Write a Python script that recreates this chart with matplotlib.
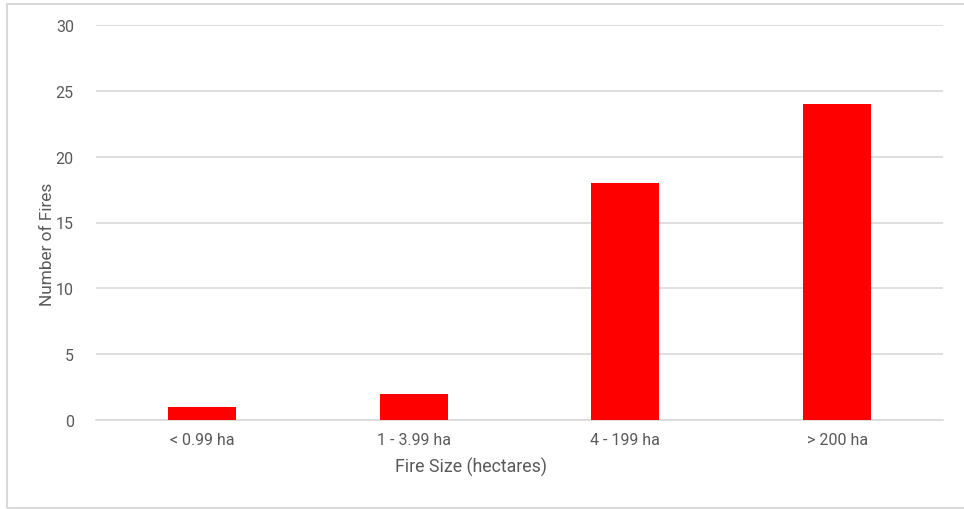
import matplotlib.pyplot as plt
from matplotlib.patches import Rectangle

# fire size classes and counts
categories = ["< 0.99 ha", "1 - 3.99 ha", "4 - 199 ha", "> 200 ha"]
fire_counts = [1, 2, 18, 24]
y_ticks = [0, 5, 10, 15, 20, 25, 30]

text_col = "#595959"
grid_col = "#d9d9d9"

plt.rcParams['font.family'] = ['Roboto', 'DejaVu Sans']

fig = plt.figure(figsize=(9.64, 5.1), dpi=100)
ax = fig.add_axes([96 / 964, 1 - 421 / 510, (943 - 96) / 964, (421 - 26) / 510])

x = range(len(categories))
ax.bar(x, fire_counts, width=0.32, color="#ff0000", zorder=3)

ax.set_xlim(-0.5, len(categories) - 0.5)
ax.set_ylim(0, 30)
ax.set_yticks(y_ticks)
ax.set_xticks(list(x))
ax.set_xticklabels(categories)

ax.grid(axis="y", color=grid_col, linewidth=1.2, zorder=0)
for s in ["top", "right", "left"]:
    ax.spines[s].set_visible(False)
ax.spines["bottom"].set_color(grid_col)
ax.spines["bottom"].set_linewidth(1.2)
ax.tick_params(axis="both", length=0, colors=text_col, labelsize=11.5)
ax.tick_params(axis="y", pad=16)
ax.tick_params(axis="x", pad=9)

fig.text(471 / 964, 1 - 467 / 510, "Fire Size (hectares)", ha="center", va="center",
         color=text_col, fontsize=12.8)
fig.text(47 / 964, 1 - 244 / 510, "Number of Fires", ha="center", va="center",
         rotation=90, color=text_col, fontsize=12.4)

# light frame around the chart
fig.patches.append(Rectangle((6.5 / 964, 1.5 / 510), 1.0, 1 - 6 / 510,
                             transform=fig.transFigure, fill=False,
                             edgecolor="#d9d9d9", linewidth=1.5))

fig.savefig("out.png", dpi=100)
